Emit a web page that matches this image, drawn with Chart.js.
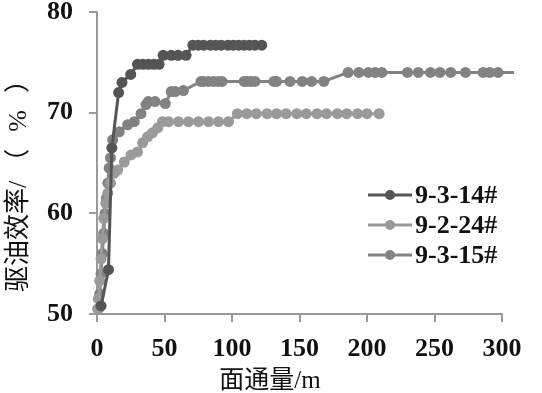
<!DOCTYPE html>
<html>
<head>
<meta charset="utf-8">
<script src="https://cdn.jsdelivr.net/npm/chart.js@4.4.0/dist/chart.umd.min.js"></script>
<style>
    body { margin: 0; background: #fff; }
    #wrap { width: 542px; height: 393px; }
</style>
</head>
<body>
<div id="wrap"><canvas id="chart" width="542" height="393"></canvas></div>
<script>
// Data
const seriesLabels = ['9-3-14#', '9-2-24#', '9-3-15#'];

const x9314 = [3, 8.5, 11, 16, 18.5, 25, 30, 34, 38, 42, 46, 49, 55, 60, 66, 71, 75, 79, 84, 88, 92, 97, 101, 105, 109, 113, 117, 122];
const y9314 = [50.8, 54.4, 66.5, 72, 73, 73.8, 74.8, 74.8, 74.8, 74.8, 74.8, 75.7, 75.7, 75.7, 75.7, 76.7, 76.7, 76.7, 76.7, 76.7, 76.7, 76.7, 76.7, 76.7, 76.7, 76.7, 76.7, 76.7];

const x9224 = [0.5, 1, 2, 3, 4, 5, 6.5, 8, 10, 12.8, 15.3, 20.2, 25.2, 30, 33.8, 37.5, 41, 45, 48.5, 53, 60.4, 67.8, 75.2, 82.6, 90, 97.4, 104, 111, 118, 126, 133, 140, 148, 155, 163, 170, 178, 185, 193, 200, 209];
const y9224 = [50.5, 51.5, 53.3, 55.5, 57.5, 59.5, 61, 62, 63, 64, 64.3, 65.1, 65.8, 66.1, 67, 67.6, 68, 68.5, 69.1, 69.1, 69.1, 69.1, 69.1, 69.1, 69.1, 69.1, 69.9, 69.9, 69.9, 69.9, 69.9, 69.9, 69.9, 69.9, 69.9, 69.9, 69.9, 69.9, 69.9, 69.9, 69.9];

const x9315 = [1, 2, 3, 4, 5, 6, 7, 8, 9, 10, 11.6, 16.5, 22.7, 27.6, 32.6, 36.3, 38, 43, 50.6, 55, 58, 64, 77, 79, 82.7, 86.4, 90, 92.6, 109, 111, 114, 117, 131, 133, 143, 152, 159, 168, 186, 194, 201, 206, 211, 230, 238, 247, 254, 262, 273, 286, 291, 297, 309];
const y9315 = [50.5, 52, 54, 56, 58, 60, 61.5, 63, 64.5, 65.5, 67.3, 68.1, 68.8, 69.1, 69.9, 70.8, 71.1, 71.1, 70.9, 72.1, 72.1, 72.2, 73.1, 73.1, 73.1, 73.1, 73.1, 73.1, 73.1, 73.1, 73.1, 73.1, 73.1, 73.1, 73.1, 73.1, 73.1, 73.1, 74, 74, 74, 74, 74, 74, 74, 74, 74, 74, 74, 74, 74, 74, 74];

const xTicks = [0, 50, 100, 150, 200, 250, 300];
const yTicks = [50, 60, 70, 80];

const colors = ['#555555', '#9a9a9a', '#828282'];

function pairs(xs, ys) {
    return xs.map((x, i) => ({ x: x, y: ys[i] }));
}

const serif = "'Liberation Serif', 'Times New Roman', serif";
const cjk = "'Liberation Serif', 'Noto Sans CJK SC', serif";
const axisGray = '#9a9a9a';

// Legend and axis titles drawn by hand so they sit where the reference has them
const overlayPlugin = {
    id: 'overlay',
    afterDraw(chart) {
        const ctx = chart.ctx;
        ctx.save();
        chart.data.datasets.forEach((ds, i) => {
            const y = 195 + i * 30;
            ctx.strokeStyle = ds.borderColor;
            ctx.lineWidth = 3;
            ctx.beginPath();
            ctx.moveTo(368, y);
            ctx.lineTo(412, y);
            ctx.stroke();
            ctx.fillStyle = ds.borderColor;
            ctx.beginPath();
            ctx.arc(390, y, 5, 0, Math.PI * 2);
            ctx.fill();
            ctx.fillStyle = '#111';
            ctx.font = 'bold 26px ' + serif;
            ctx.textAlign = 'left';
            ctx.textBaseline = 'middle';
            ctx.fillText(ds.label, 415, y + 1);
        });

        ctx.fillStyle = '#111';
        ctx.font = '25px ' + cjk;
        ctx.textAlign = 'center';
        ctx.textBaseline = 'middle';
        ctx.fillText('面通量/m', 270, 381);

        // y title, reading bottom to top
        ctx.translate(19, 292);
        ctx.rotate(-Math.PI / 2);
        ctx.textAlign = 'left';
        ctx.font = '26px ' + cjk;
        const part1 = '驱油效率/';
        ctx.fillText(part1, 0, 0);
        const w1 = ctx.measureText(part1).width;
        ctx.letterSpacing = '17px';
        ctx.fillText('（%）', w1 + 6, 0);
        ctx.restore();
    }
};

const ctx = document.getElementById('chart').getContext('2d');
const chart = new Chart(ctx, {
    type: 'line',
    data: {
        datasets: [
            { label: seriesLabels[0], data: pairs(x9314, y9314) },
            { label: seriesLabels[1], data: pairs(x9224, y9224) },
            { label: seriesLabels[2], data: pairs(x9315, y9315) }
        ].map((ds, i) => ({
            ...ds,
            borderColor: colors[i],
            backgroundColor: colors[i],
            pointBackgroundColor: colors[i],
            pointBorderWidth: 0,
            pointRadius: 5.5,
            borderWidth: 3,
            tension: 0,
            clip: false
        }))
    },
    options: {
        responsive: false,
        animation: false,
        layout: { padding: { top: 12, right: 40, bottom: 0, left: 0 } },
        plugins: {
            legend: { display: false },
            tooltip: { enabled: false }
        },
        scales: {
            x: {
                type: 'linear',
                min: 0,
                max: 300,
                afterBuildTicks: s => { s.ticks = xTicks.map(v => ({ value: v })); },
                afterFit: s => { s.height = 79; },
                grid: { display: true, drawOnChartArea: false, color: axisGray, lineWidth: 2, tickLength: 8 },
                border: { color: axisGray, width: 2 },
                ticks: { color: '#111', padding: 12, maxRotation: 0, font: { family: serif, size: 26, weight: 'bold' } }
            },
            y: {
                min: 50,
                max: 80,
                afterBuildTicks: s => { s.ticks = yTicks.map(v => ({ value: v })); },
                afterFit: s => { s.width = 97; s.paddingTop = 0; s.paddingBottom = 0; },
                grid: { display: true, drawOnChartArea: false, color: axisGray, lineWidth: 2, tickLength: 8 },
                border: { color: axisGray, width: 2 },
                ticks: { color: '#111', padding: 16, font: { family: serif, size: 26, weight: 'bold', lineHeight: 1 } }
            }
        }
    },
    plugins: [overlayPlugin]
});
</script>
</body>
</html>
